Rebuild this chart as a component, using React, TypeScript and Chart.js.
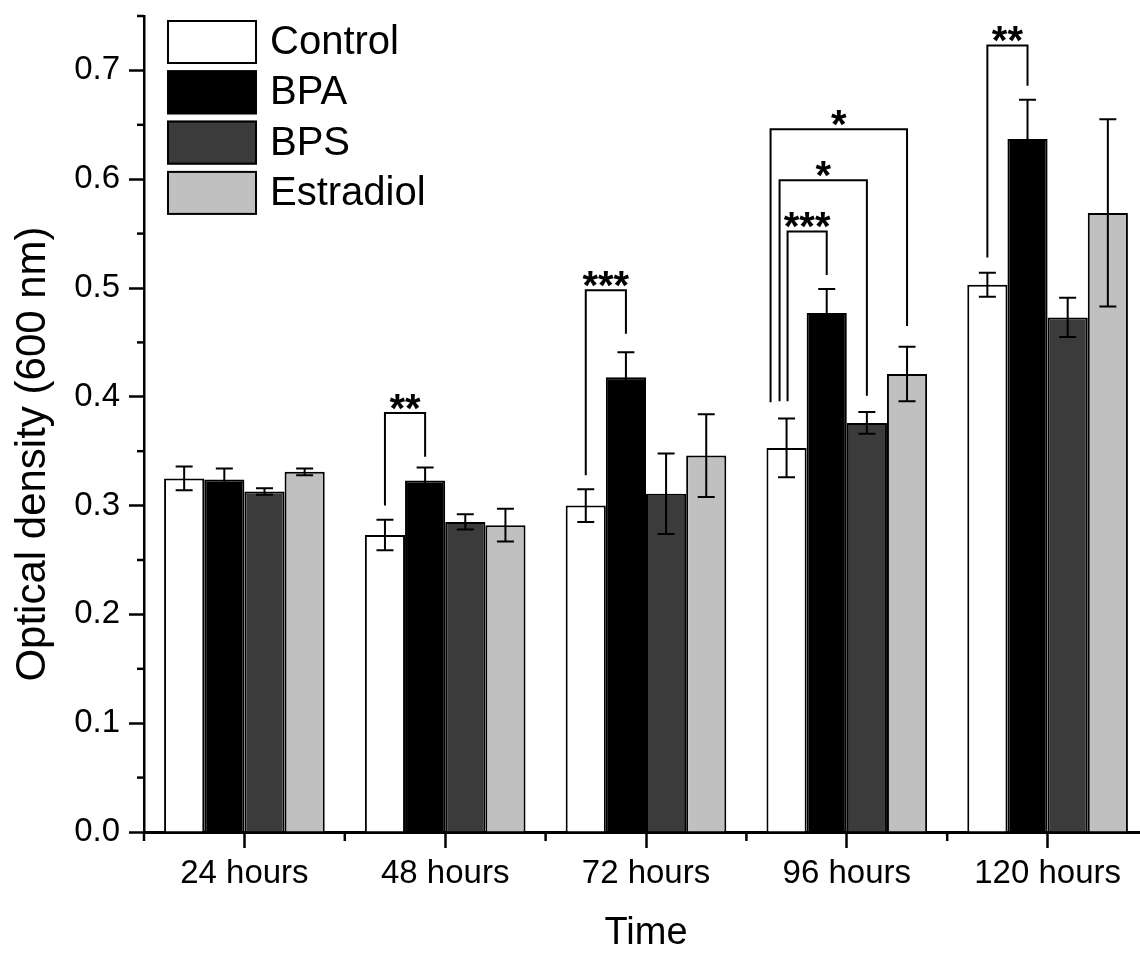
import { useEffect, useRef } from 'react';
import { Chart, registerables } from 'chart.js';

Chart.register(...registerables);

const FONT = "'Liberation Sans', Arial, Helvetica, sans-serif";

// ---- data ----
const categories = ['24 hours', '48 hours', '72 hours', '96 hours', '120 hours'];
const seriesNames = ['Control', 'BPA', 'BPS', 'Estradiol'];

const control = [0.325, 0.273, 0.300, 0.353, 0.503];
const controlErr = [0.011, 0.014, 0.015, 0.027, 0.011];
const bpa = [0.324, 0.323, 0.418, 0.477, 0.637];
const bpaErr = [0.010, 0.012, 0.023, 0.022, 0.036];
const bps = [0.313, 0.285, 0.311, 0.376, 0.473];
const bpsErr = [0.003, 0.007, 0.037, 0.010, 0.018];
const estradiol = [0.331, 0.282, 0.346, 0.421, 0.569];
const estradiolErr = [0.003, 0.015, 0.038, 0.025, 0.086];

const yMin = 0;
const yMax = 0.75;
const yMajorStep = 0.1;
const yMinorTicks = [0.05, 0.15, 0.25, 0.35, 0.45, 0.55, 0.65, 0.75];

// significance brackets (category index, series from/to, values in data units)
const bracketCategory = [1, 2, 3, 3, 3, 4];
const bracketFrom = [0, 0, 0, 0, 0, 0];
const bracketTo = [1, 1, 1, 2, 3, 1];
const bracketTop = [0.385, 0.498, 0.552, 0.599, 0.646, 0.723];
const bracketFromEnd = [0.300, 0.328, 0.396, 0.396, 0.395, 0.528];
const bracketToEnd = [0.345, 0.458, 0.512, 0.401, 0.465, 0.686];
const bracketLabel = ['**', '***', '***', '*', '*', '**'];

// ---- styles ----
const seriesColors = ['#ffffff', '#000000', '#3b3b3b', '#c0c0c0'];
const bracketFromShift = [0, 0, 1, -7, -16, 0];

const seriesValues = [control, bpa, bps, estradiol];
const seriesErrors = [controlErr, bpaErr, bpsErr, estradiolErr];

const overlayPlugin = {
  id: 'overlay',
  afterDatasetsDraw(chart: any) {
    const ctx = chart.ctx;
    const ys = chart.scales.y;
    ctx.save();
    ctx.strokeStyle = '#000';
    ctx.lineWidth = 2;
    seriesValues.forEach((vals, d) => {
      const meta = chart.getDatasetMeta(d);
      vals.forEach((v, i) => {
        const x = meta.data[i].x;
        const e = seriesErrors[d][i];
        const t = ys.getPixelForValue(v + e);
        const b = ys.getPixelForValue(v - e);
        ctx.beginPath();
        ctx.moveTo(x, t);
        ctx.lineTo(x, b);
        ctx.moveTo(x - 8.5, t);
        ctx.lineTo(x + 8.5, t);
        ctx.moveTo(x - 8.5, b);
        ctx.lineTo(x + 8.5, b);
        ctx.stroke();
      });
    });
    ctx.restore();
  },
  afterDraw(chart: any) {
    const ctx = chart.ctx;
    const area = chart.chartArea;
    const ys = chart.scales.y;
    const xs = chart.scales.x;
    ctx.save();

    // minor ticks
    ctx.strokeStyle = '#000';
    ctx.lineWidth = 2.5;
    yMinorTicks.forEach((v) => {
      const py = ys.getPixelForValue(v);
      ctx.beginPath();
      ctx.moveTo(area.left - 7, py);
      ctx.lineTo(area.left, py);
      ctx.stroke();
    });
    const step = xs.getPixelForValue(1) - xs.getPixelForValue(0);
    for (let i = 0; i <= categories.length; i++) {
      const px = xs.getPixelForValue(i) - step / 2;
      ctx.beginPath();
      ctx.moveTo(px, area.bottom);
      ctx.lineTo(px, area.bottom + 9);
      ctx.stroke();
    }

    // significance brackets
    ctx.lineWidth = 2;
    ctx.fillStyle = '#000';
    ctx.font = `bold 40px ${FONT}`;
    ctx.textAlign = 'center';
    ctx.textBaseline = 'alphabetic';
    bracketCategory.forEach((c, k) => {
      const x1 = chart.getDatasetMeta(bracketFrom[k]).data[c].x + bracketFromShift[k];
      const x2 = chart.getDatasetMeta(bracketTo[k]).data[c].x;
      const yt = ys.getPixelForValue(bracketTop[k]);
      ctx.beginPath();
      ctx.moveTo(x1, ys.getPixelForValue(bracketFromEnd[k]));
      ctx.lineTo(x1, yt);
      ctx.lineTo(x2, yt);
      ctx.lineTo(x2, ys.getPixelForValue(bracketToEnd[k]));
      ctx.stroke();
      const m = ctx.measureText(bracketLabel[k]);
      ctx.fillText(bracketLabel[k], (x1 + x2) / 2, yt - 3 - m.actualBoundingBoxDescent);
    });

    // legend
    ctx.font = `40px ${FONT}`;
    ctx.textAlign = 'left';
    ctx.textBaseline = 'middle';
    seriesNames.forEach((name, i) => {
      const bx = area.left + 23;
      const by = area.top + 4 + i * 50.3;
      ctx.fillStyle = seriesColors[i];
      ctx.fillRect(bx, by, 90, 44);
      ctx.strokeStyle = '#000';
      ctx.lineWidth = 2;
      ctx.strokeRect(bx + 1, by + 1, 88, 42);
      ctx.fillStyle = '#000';
      ctx.fillText(name, bx + 103, by + 23);
    });

    // y axis title
    ctx.save();
    ctx.translate(area.left - 99, (area.top + area.bottom) / 2 + 30);
    ctx.rotate(-Math.PI / 2);
    ctx.textAlign = 'center';
    ctx.textBaseline = 'alphabetic';
    ctx.font = `42px ${FONT}`;
    ctx.fillStyle = '#000';
    ctx.fillText('Optical density (600 nm)', 0, 0);
    ctx.restore();

    ctx.restore();
  },
};

export default function App() {
  const ref = useRef<HTMLCanvasElement | null>(null);

  useEffect(() => {
    if (!ref.current) return;
    Chart.defaults.font.family = FONT;
    const chart = new Chart(ref.current, {
      type: 'bar',
      data: {
        labels: categories,
        datasets: seriesNames.map((name, i) => ({
          label: name,
          data: seriesValues[i],
          backgroundColor: seriesColors[i],
          borderColor: '#000',
          borderWidth: 2,
          categoryPercentage: 0.8,
          barPercentage: 1.0,
        })),
      },
      options: {
        responsive: false,
        animation: false,
        devicePixelRatio: 1,
        layout: { padding: { top: 16, right: 2, left: 0, bottom: 0 } },
        plugins: {
          legend: { display: false },
          tooltip: { enabled: false },
        },
        scales: {
          x: {
            type: 'category',
            offset: true,
            grid: {
              offset: false,
              drawOnChartArea: false,
              drawTicks: true,
              tickLength: 16,
              tickWidth: 2.5,
              tickColor: '#000',
            },
            border: { display: true, color: '#000', width: 3 },
            ticks: {
              color: '#000',
              font: { size: 33, family: FONT },
              padding: 6,
              maxRotation: 0,
              autoSkip: false,
            },
            title: {
              display: true,
              text: 'Time',
              color: '#000',
              font: { size: 38, family: FONT, lineHeight: 1 },
              padding: { top: 0, bottom: 0 },
            },
            afterFit: (scale: any) => {
              scale.height = 121;
              scale.paddingLeft = 0;
              scale.paddingRight = 0;
            },
          },
          y: {
            type: 'linear',
            min: yMin,
            max: yMax,
            grid: {
              drawOnChartArea: false,
              drawTicks: true,
              tickLength: 15,
              tickWidth: 2.5,
              tickColor: '#000',
            },
            border: { display: true, color: '#000', width: 2.5 },
            ticks: {
              stepSize: yMajorStep,
              includeBounds: false,
              color: '#000',
              font: { size: 33, family: FONT },
              padding: 9,
              callback: (v: any) => Number(v).toFixed(1),
            },
            afterFit: (scale: any) => {
              scale.width = 144;
              scale.paddingTop = 0;
              scale.paddingBottom = 0;
            },
          },
        },
      },
      plugins: [overlayPlugin],
    } as any);
    return () => chart.destroy();
  }, []);

  return (
    <div
      style={{
        position: 'absolute',
        left: 0,
        top: 0,
        width: 1140,
        height: 953,
        overflow: 'hidden',
        background: '#fff',
      }}
    >
      <canvas ref={ref} width={1150} height={953} />
    </div>
  );
}
